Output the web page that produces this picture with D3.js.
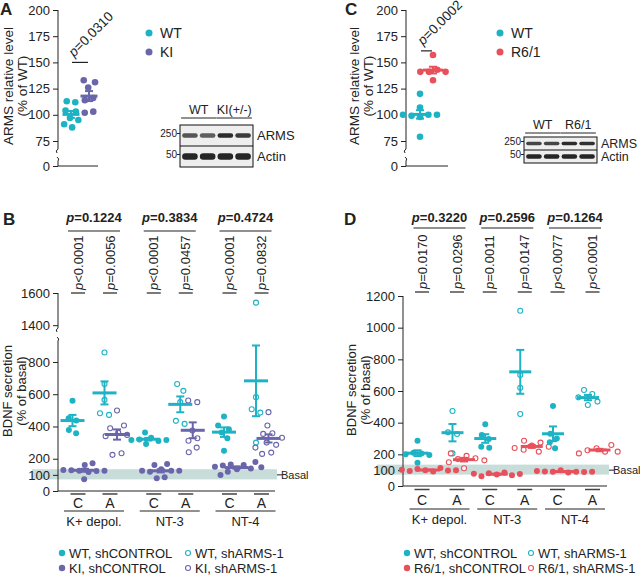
<!DOCTYPE html>
<html><head><meta charset="utf-8">
<script src="https://cdn.jsdelivr.net/npm/d3@7"></script>
<style>
body{margin:0;background:#fff}
svg{display:block}
text{font-family:"Liberation Sans",Arial,Helvetica,sans-serif;fill:#222}
</style>
</head><body>
<svg id="c" width="640" height="576"></svg>
<script>
// ---------------- DATA ----------------
// Panel A
const groupsA = ["WT", "KI"];
const armsA_WT = [113, 112, 104, 103, 97, 95, 88, 91];
const armsA_KI = [133, 131, 126, 116, 114, 102, 103];
const pA = "=0.0310";
// Panel C
const groupsC = ["WT", "R6/1"];
const armsC_WT = [120, 107, 100, 98, 100, 99, 100, 79];
const armsC_R61 = [157, 141, 141, 143, 141, 133];
const pC = "=0.0002";
const ticksAC = [0, 75, 100, 125, 150, 175, 200];
// Western blots
const blotLanesA = ["WT", "WT", "KI(+/-)", "KI(+/-)"];
const blotLanesC = ["WT", "WT", "R6/1", "R6/1"];
const blotMarkers = ["250", "50"];
const blotProteins = ["ARMS", "Actin"];
const blotArmsA = [0.72, 0.68, 0.92, 0.85];
const blotArmsC = [0.8, 0.8, 0.92, 0.9];
const blotActin = [0.95, 0.95, 0.95, 0.95];
// Panels B & D shared
const stimuli = ["K+ depol.", "NT-3", "NT-4"];
const shRNAs = ["C", "A"];
const basalRange = [72, 135];
// Panel B
const bWT_shCTRL = [[559, 451, 437, 379, 358], [362, 330, 319, 317, 317, 310, 292], [462, 406, 383, 362, 327, 250]];
const bKI_shCTRL = [[172, 161, 130, 128, 126, 124, 118, 125, 73], [168, 161, 135, 126, 126, 126, 120, 85, 79], [180, 165, 161, 158, 150, 147, 140, 135, 120, 99]];
const bWT_shARMS = [[859, 663, 565, 482, 472], [663, 621, 551, 435, 416], [1540, 582, 507, 486, 300]];
const bKI_shARMS = [[499, 406, 389, 362, 348, 340, 234, 224], [561, 551, 375, 327, 312, 269, 240], [489, 406, 358, 354, 330, 300, 286, 269, 238, 230]];
const pB_top = ["=0.1224", "=0.3834", "=0.4724"];
const pB_pairs = ["<0.0001", "=0.0056", "<0.0001", "=0.0457", "<0.0001", "=0.0832"];
const ticksB = [0, 100, 200, 400, 600, 800, 1400, 1600];
const legendB = [["WT, shCONTROL", "WT, shARMS-1"], ["KI, shCONTROL", "KI, shARMS-1"]];
// Panel D
const dWT_shCTRL = [[286, 210, 205, 200, 196, 147], [390, 322, 297, 248, 242], [505, 330, 300, 276, 238]];
const dR61_shCTRL = [[113, 108, 102, 100, 100, 98, 95, 92], [85, 80, 78, 76, 72, 68, 62], [100, 95, 92, 90, 90, 88, 85, 90]];
const dWT_shARMS = [[474, 339, 328, 206], [1107, 701, 621, 455], [606, 581, 560, 533, 512]];
const dR61_shARMS = [[206, 190, 175, 170, 162, 150, 112], [286, 274, 255, 248, 240, 229, 217], [259, 238, 226, 217, 217, 206]];
const pD_top = ["=0.3220", "=0.2596", "=0.1264"];
const pD_pairs = ["=0.0170", "=0.0296", "=0.0011", "=0.0147", "<0.0077", "<0.0001"];
const ticksD = [0, 100, 200, 400, 600, 800, 1000, 1200];
const legendD = [["WT, shCONTROL", "WT, shARMS-1"], ["R6/1, shCONTROL", "R6/1, shARMS-1"]];

// ---------------- STYLE ----------------
const COL = {cyan: "#1db3c4", purple: "#6a66ab", red: "#e8505c", orange: "#f2a93b", band: "#c8dcda", ink: "#222"};
const svg = d3.select("#c");
const fmt = d3.format("d");

// ---------------- HELPERS ----------------
function swarm(values, y, cx, r, gap) {
  const nodes = values.map(v => ({v: v, x: cx, y: y(v), fy: y(v)}));
  const sim = d3.forceSimulation(nodes)
    .force("x", d3.forceX(cx).strength(0.12))
    .force("c", d3.forceCollide(r + gap))
    .stop();
  for (let i = 0; i < 250; i++) sim.tick();
  return nodes;
}
function drawPoints(g, values, y, cx, r, color, open) {
  const nodes = swarm(values, y, cx, r, open ? 1.6 : 1.0);
  g.selectAll(null).data(nodes).enter().append("circle")
    .attr("cx", d => d.x).attr("cy", d => d.fy)
    .attr("r", open ? r - 0.5 : r)
    .attr("fill", open ? "#fff" : color)
    .attr("stroke", open ? color : "none")
    .attr("stroke-width", open ? 1.1 : 0);
}
function meanSem(g, values, y, cx, halfW, color) {
  const m = d3.mean(values), s = d3.deviation(values) / Math.sqrt(values.length);
  g.append("line").attr("x1", cx).attr("x2", cx).attr("y1", y(m - s)).attr("y2", y(m + s))
    .attr("stroke", color).attr("stroke-width", 2);
  [m - s, m + s].forEach(v => g.append("line").attr("x1", cx - 4).attr("x2", cx + 4)
    .attr("y1", y(v)).attr("y2", y(v)).attr("stroke", color).attr("stroke-width", 2));
  g.append("line").attr("x1", cx - halfW).attr("x2", cx + halfW).attr("y1", y(m)).attr("y2", y(m))
    .attr("stroke", color).attr("stroke-width", 3);
}
function pLabel(sel, rest) {
  sel.append("tspan").attr("font-style", "italic").text("p");
  sel.append("tspan").text(rest);
}
function styleAxis(g, size) {
  g.select(".domain").remove();
  g.attr("font-family", null).attr("font-size", null);
  g.selectAll(".tick line").attr("stroke", COL.ink);
  g.selectAll(".tick text").attr("font-size", size).attr("fill", "#222");
}
function yLabel(lines, xs, cy, size) {
  lines.forEach((t, i) => svg.append("text")
    .attr("transform", `translate(${xs[i]},${cy}) rotate(-90)`)
    .attr("text-anchor", "middle").attr("font-size", size).text(t));
}
function panelLetter(t, x, y) {
  svg.append("text").attr("x", x).attr("y", y).attr("font-size", 17).attr("font-weight", "bold").text(t);
}

// ---------------- PANELS A / C ----------------
function panelAC(opt) {
  const g = svg.append("g");
  const y = d3.scaleLinear().domain([0, 75, 200]).range([166, 141, 10]);
  const x = d3.scalePoint().domain(opt.groups).range(opt.xr);
  const ax = g.append("g").attr("transform", `translate(${opt.ax},0)`)
    .call(d3.axisLeft(y).tickValues(ticksAC).tickFormat(fmt).tickSize(5).tickPadding(3));
  styleAxis(ax, 13);
  g.append("path").attr("d", `M${opt.ax},${y(200)}V149Q${opt.ax - 3},151 ${opt.ax - 1},153`)
    .attr("fill", "none").attr("stroke", COL.ink);
  g.append("path").attr("d", `M${opt.ax - 1},157Q${opt.ax + 2},159 ${opt.ax},161V166H${opt.xEnd}`)
    .attr("fill", "none").attr("stroke", COL.ink);
  opt.series.forEach((vals, i) => {
    drawPoints(g, vals, y, x(opt.groups[i]), 3.3, opt.colors[i], false);
  });
  opt.series.forEach((vals, i) => meanSem(g, vals, y, x(opt.groups[i]), opt.halfW, opt.colors[i]));
  // significance
  const sy = y(opt.sigVal);
  g.append("line").attr("x1", x(opt.groups[0]) + 1).attr("x2", x(opt.groups[1]) - 1)
    .attr("y1", sy).attr("y2", sy).attr("stroke", COL.ink).attr("stroke-width", 1.2);
  const pt = g.append("text").attr("transform", `translate(${x(opt.groups[0]) + 3},${sy - 5}) rotate(-45)`)
    .attr("font-size", 13.5);
  pLabel(pt, opt.p);
  // legend
  opt.groups.forEach((gname, i) => {
    g.append("circle").attr("cx", opt.legX).attr("cy", 33 + i * 19).attr("r", 3.5).attr("fill", opt.colors[i]);
    g.append("text").attr("x", opt.legX + 11).attr("y", 38 + i * 19).attr("font-size", 14).text(gname);
  });
}

function blot(opt) {
  const g = svg.append("g");
  const lx = d3.scaleBand().domain(d3.range(opt.lanes.length)).range([opt.x0, opt.x1]).padding(0.12);
  const rows = d3.scaleBand().domain(blotProteins).range([opt.y0, opt.y1]);
  const groupsUnique = Array.from(new Set(opt.lanes));
  groupsUnique.forEach(gn => {
    const idx = opt.lanes.map((l, i) => l === gn ? i : -1).filter(i => i >= 0);
    const a = lx(idx[0]) - 1, b = lx(idx[idx.length - 1]) + lx.bandwidth() + 1;
    g.append("line").attr("x1", a).attr("x2", b).attr("y1", opt.lineY).attr("y2", opt.lineY)
      .attr("stroke", COL.ink).attr("stroke-width", 1);
    g.append("text").attr("x", (a + b) / 2).attr("y", opt.lineY - 4).attr("text-anchor", "middle")
      .attr("font-size", opt.labSize).text(gn);
  });
  g.append("rect").attr("x", opt.x0).attr("y", opt.y0).attr("width", opt.x1 - opt.x0)
    .attr("height", opt.y1 - opt.y0).attr("fill", "#eeeeee").attr("stroke", "#111").attr("stroke-width", 1);
  g.append("line").attr("x1", opt.x0).attr("x2", opt.x1).attr("y1", rows("Actin")).attr("y2", rows("Actin"))
    .attr("stroke", "#111");
  const intens = [opt.arms, blotActin];
  blotProteins.forEach((p, ri) => {
    const cy = rows(p) + rows.bandwidth() / 2;
    const h = ri === 0 ? opt.armsH : opt.actinH;
    opt.lanes.forEach((l, i) => {
      g.append("rect").attr("x", lx(i)).attr("y", cy - h / 2).attr("width", lx.bandwidth()).attr("height", h)
        .attr("rx", h / 2).attr("fill", "#1a1a1a").attr("opacity", intens[ri][i]).attr("filter", "url(#blur)");
    });
    g.append("text").attr("x", opt.x1 + 4).attr("y", cy + opt.protSize * 0.35).attr("font-size", opt.protSize).text(p);
    g.append("line").attr("x1", opt.x0 - 3).attr("x2", opt.x0).attr("y1", cy - 2).attr("y2", cy - 2).attr("stroke", COL.ink);
    g.append("text").attr("x", opt.x0 - 3).attr("y", cy + 1.5).attr("text-anchor", "end")
      .attr("font-size", 10).text(blotMarkers[ri]);
  });
}

const defs = svg.append("defs");
defs.append("filter").attr("id", "blur").append("feGaussianBlur").attr("stdDeviation", 0.6);

panelLetter("A", 0, 15);
yLabel(["ARMS relative level", "(% of WT)"], [13, 27], 86, 13.5);
panelAC({groups: groupsA, series: [armsA_WT, armsA_KI], colors: [COL.cyan, COL.purple],
  xr: [71, 89], ax: 58, xEnd: 98, halfW: 8.5, sigVal: 150, p: pA, legX: 149});
blot({lanes: blotLanesA, arms: blotArmsA, x0: 180, x1: 253, y0: 125, y1: 167, lineY: 118,
  labSize: 12.5, armsH: 4.5, actinH: 6.5, protSize: 13});

panelLetter("C", 345, 15);
yLabel(["ARMS relative level", "(% of WT)"], [359, 373], 86, 13.5);
panelAC({groups: groupsC, series: [armsC_WT, armsC_R61], colors: [COL.cyan, COL.red],
  xr: [420, 433], ax: 406, xEnd: 448, halfW: 10, sigVal: 161, p: pC, legX: 500});
blot({lanes: blotLanesC, arms: blotArmsC, x0: 524, x1: 597, y0: 137, y1: 163, lineY: 133,
  labSize: 12.5, armsH: 3.5, actinH: 4.5, protSize: 12.5});

// ---------------- PANELS B / D ----------------
function panelBD(opt) {
  const g = svg.append("g");
  const y = opt.y;
  const xs = d3.scalePoint().domain(stimuli).range(opt.stimR);
  const xc = (s, k) => xs(s) + (k === "C" ? -opt.inner : opt.inner);
  g.append("rect").attr("x", opt.bandX0).attr("width", opt.axEnd + 2 - opt.bandX0)
    .attr("y", y(basalRange[1])).attr("height", y(basalRange[0]) - y(basalRange[1])).attr("fill", COL.band);
  g.append("line").attr("x1", opt.axEnd + 2).attr("x2", opt.axEnd + 7).attr("y1", y(100)).attr("y2", y(100))
    .attr("stroke", COL.ink);
  g.append("text").attr("x", opt.axEnd + 6).attr("y", y(100) + 4).attr("font-size", 11).text("Basal");
  const ax = g.append("g").attr("transform", `translate(${opt.ax},0)`)
    .call(d3.axisLeft(y).tickValues(opt.ticks).tickFormat(fmt).tickSize(5).tickPadding(3));
  styleAxis(ax, 13);
  opt.axisPaths.forEach(d => g.append("path").attr("d", d).attr("fill", "none").attr("stroke", COL.ink));
  g.append("line").attr("x1", opt.ax).attr("x2", opt.axEnd).attr("y1", y(0)).attr("y2", y(0)).attr("stroke", COL.ink);
  const sets = [
    [opt.wtC, "C", -opt.geno[0], COL.cyan, false],
    [opt.mutC, "C", opt.geno[1], opt.mutColor, false],
    [opt.wtA, "A", -opt.geno[0], COL.cyan, true],
    [opt.mutA, "A", opt.geno[1], opt.mutColor, true]
  ];
  stimuli.forEach((s, si) => sets.forEach(([arr, k, off, col, open]) =>
    drawPoints(g, arr[si], y, xc(s, k) + off, 3, col, open)));
  stimuli.forEach((s, si) => sets.forEach(([arr, k, off, col]) =>
    meanSem(g, arr[si], y, xc(s, k) + off, opt.halfW, col)));
  stimuli.forEach((s, si) => {
    shRNAs.forEach((k, ki) => {
      const cx = xc(s, k);
      g.append("line").attr("x1", cx - 7.5).attr("x2", cx + 7.5).attr("y1", opt.dashY).attr("y2", opt.dashY)
        .attr("stroke", "#444").attr("stroke-width", 1.5);
      g.append("text").attr("x", cx).attr("y", opt.catY).attr("text-anchor", "middle").attr("font-size", 14)
        .attr("fill", k === "C" ? COL.cyan : COL.orange).text(k);
      g.append("line").attr("x1", cx - 7).attr("x2", cx + 7).attr("y1", opt.pairBarY).attr("y2", opt.pairBarY)
        .attr("stroke", COL.ink).attr("stroke-width", 1.2);
      const t = g.append("text").attr("transform", `translate(${cx},${opt.pairBarY - 3}) rotate(-90)`)
        .attr("dy", "0.36em").attr("font-size", 13);
      pLabel(t, opt.pairs[si * 2 + ki]);
    });
    const m = xs(s);
    g.append("line").attr("x1", m - 30).attr("x2", m + 30).attr("y1", opt.grpLineY).attr("y2", opt.grpLineY)
      .attr("stroke", COL.ink);
    g.append("text").attr("x", m).attr("y", opt.grpLineY + 15).attr("text-anchor", "middle").attr("font-size", 13).text(s);
    g.append("line").attr("x1", m - 26).attr("x2", m + 26).attr("y1", opt.topLineY).attr("y2", opt.topLineY)
      .attr("stroke", COL.ink).attr("stroke-width", 1.2);
    const tt = g.append("text").attr("x", m).attr("y", 222).attr("text-anchor", "middle")
      .attr("font-size", 13).attr("font-weight", "bold");
    pLabel(tt, opt.top[si]);
  });
  opt.legend.forEach((row, ri) => row.forEach((lab, ci) => {
    const lx = opt.legX[ci], ly = 553 + ri * 15;
    g.append("circle").attr("cx", lx).attr("cy", ly).attr("r", ci === 0 ? 3.2 : 2.5)
      .attr("fill", ci === 0 ? (ri === 0 ? COL.cyan : opt.mutColor) : "#fff")
      .attr("stroke", ci === 0 ? "none" : (ri === 0 ? COL.cyan : opt.mutColor)).attr("stroke-width", 1.1);
    g.append("text").attr("x", lx + 7).attr("y", ly + 5).attr("font-size", 13).text(lab);
  }));
}

panelLetter("B", 3, 225);
yLabel(["BDNF secretion", "(% of basal)"], [12, 26], 391, 13);
const yB = d3.scaleLinear().domain([0, 940, 1370, 1600]).range([491, 339.4, 330, 293]);
panelBD({y: yB, ticks: ticksB, stimR: [94, 245.5], inner: 16, geno: [5.5, 7], halfW: 12,
  ax: 58, axEnd: 275, bandX0: 32,
  axisPaths: ["M58,293V328Q55,330 57,332", "M57,337Q60,339 58,341V491"],
  wtC: bWT_shCTRL, mutC: bKI_shCTRL, wtA: bWT_shARMS, mutA: bKI_shARMS, mutColor: COL.purple,
  dashY: 494, catY: 508, grpLineY: 511, pairBarY: 293, topLineY: 231,
  pairs: pB_pairs, top: pB_top, legend: legendB, legX: [62, 188]});

panelLetter("D", 344, 225);
yLabel(["BDNF secretion", "(% of basal)"], [356, 370], 390, 13);
const yD = d3.scaleLinear().domain([0, 1200]).range([486, 296]);
panelBD({y: yD, ticks: ticksD, stimR: [439.5, 575], inner: 17.5, geno: [4.5, 7], halfW: 11,
  ax: 403, axEnd: 607, bandX0: 377,
  axisPaths: ["M403,296V486"],
  wtC: dWT_shCTRL, mutC: dR61_shCTRL, wtA: dWT_shARMS, mutA: dR61_shARMS, mutColor: COL.red,
  dashY: 489.5, catY: 505, grpLineY: 509, pairBarY: 292, topLineY: 228,
  pairs: pD_pairs, top: pD_top, legend: legendD, legX: [407, 531]});
</script>
</body></html>
